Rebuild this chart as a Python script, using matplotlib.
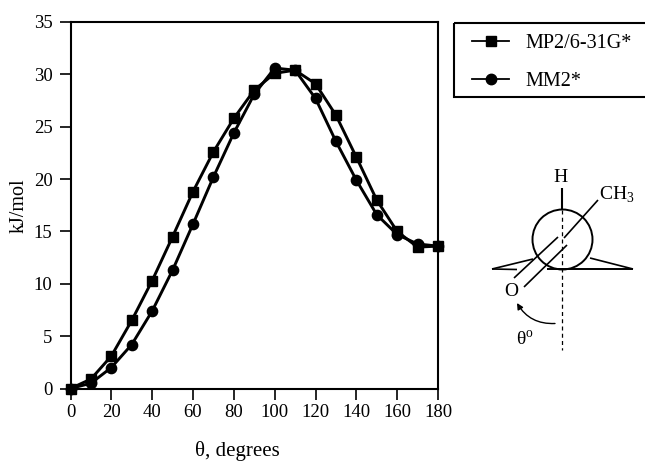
import matplotlib
matplotlib.use("Agg")
import matplotlib.pyplot as plt
from matplotlib.patches import Circle, Rectangle, FancyArrowPatch

plt.rcParams['font.family'] = ['Liberation Serif', 'DejaVu Serif']

theta = [0, 10, 20, 30, 40, 50, 60, 70, 80, 90, 100, 110, 120, 130, 140, 150, 160, 170, 180]
mp2 = [0, 0.9, 3.1, 6.5, 10.3, 14.5, 18.8, 22.6, 25.8, 28.5, 30.1, 30.4, 29.1, 26.1, 22.1, 18.0, 15.0, 13.5, 13.6]
mm2 = [0, 0.5, 2.0, 4.2, 7.4, 11.3, 15.7, 20.2, 24.4, 28.1, 30.6, 30.4, 27.7, 23.6, 19.9, 16.6, 14.7, 13.8, 13.6]
xticks = list(range(0, 181, 20))
yticks = list(range(0, 36, 5))

W, H = 645, 462
fig = plt.figure(figsize=(W / 100, H / 100), dpi=100)
ax = fig.add_axes([70.5 / W, 1 - 388.5 / H, 367.5 / W, 366.5 / H])

l1, = ax.plot(theta, mp2, '-s', color='k', lw=2.1, ms=7.4, clip_on=False, label='MP2/6-31G*', zorder=3)
l2, = ax.plot(theta, mm2, '-o', color='k', lw=2.1, ms=7.4, clip_on=False, label='MM2*', zorder=3)

ax.set_xlim(0, 180)
ax.set_ylim(0, 35)
ax.set_xticks(xticks)
ax.set_yticks(yticks)
ax.tick_params(direction='out', length=8, width=1.2, labelsize=13.5, colors='k')
ax.tick_params(axis='x', pad=3)
ax.tick_params(axis='y', pad=5)
for s in ax.spines.values():
    s.set_linewidth(1.5)

# overlay in pixel coordinates for the legend frame and the molecule sketch
ov = fig.add_axes([0, 0, 1, 1], zorder=5)
ov.set_xlim(0, W)
ov.set_ylim(H, 0)
ov.axis('off')
ov.patch.set_alpha(0)

ov.text(19, 206, 'kJ/mol', rotation=90, ha='center', va='center', fontsize=14.5)
ov.text(237.5, 451, 'θ, degrees', ha='center', va='center', fontsize=15)

ov.add_patch(Rectangle((454, 23), 200, 74, fill=False, ec='k', lw=1.5))
leg = fig.legend(handles=[l1, l2], loc='upper left', bbox_to_anchor=(467 / W, 1 - 29 / H),
                 bbox_transform=fig.transFigure, frameon=False, fontsize=14.5, borderaxespad=0,
                 borderpad=0.25, handlelength=1.85, handletextpad=0.8, labelspacing=0.95)
leg.set_zorder(6)
for h in leg.legend_handles:
    h.set_linewidth(1.3)
    h.set_markersize(7.5)

def seg(x0, y0, x1, y1, **kw):
    kw.setdefault('lw', 1.2)
    ov.plot([x0, x1], [y0, y1], color='k', solid_capstyle='butt', **kw)

ov.add_patch(Circle((562.5, 239.5), 30, fill=False, ec='k', lw=1.4))
seg(561.7, 188, 561.7, 210, lw=1.5)
seg(561.7, 210, 561.7, 350, ls=(0, (3.2, 2.6)), lw=0.9)
seg(598, 200, 564, 238)
seg(558, 237, 514, 278)
seg(567, 245, 524, 287)
seg(492, 269, 533, 259)
seg(492, 269, 517, 269.5)
seg(547, 269, 633, 269, lw=1.4)
seg(590, 258, 633, 269)

ov.add_patch(FancyArrowPatch((555, 323.5), (517, 303), connectionstyle='arc3,rad=-0.3',
                             arrowstyle='-|>', mutation_scale=9, lw=1.0, color='k', shrinkA=0, shrinkB=0))

ov.text(561, 177, 'H', ha='center', va='center', fontsize=14)
ov.text(599, 195, r'CH$_{\mathregular{3}}$', ha='left', va='center', fontsize=14)
ov.text(511, 292, 'O', ha='center', va='center', fontsize=14)
ov.text(525, 340, r'θ$^{\mathregular{o}}$', ha='center', va='center', fontsize=14)

fig.savefig('out.png', dpi=100)
